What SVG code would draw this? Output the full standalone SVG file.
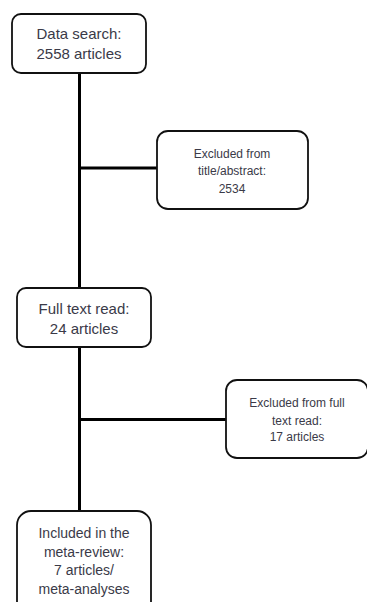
<svg xmlns="http://www.w3.org/2000/svg" width="367" height="602" viewBox="0 0 367 602">
<style>
.box{fill:#fff;stroke:#111;stroke-width:1.8}
.ln{stroke:#000;stroke-width:3;fill:none}
text{font-family:"Liberation Sans",Arial,sans-serif;fill:#3a3a48;text-anchor:middle}
.big{font-size:15px}
.sm{font-size:12px}
.md{font-size:14px}
</style>
<rect width="367" height="602" fill="#fff"/>
<g id="connectors">
<line class="ln" x1="79.5" y1="73" x2="79.5" y2="288"/>
<line class="ln" x1="79.5" y1="347" x2="79.5" y2="511"/>
<line class="ln" x1="79.5" y1="168" x2="157" y2="168"/>
<line class="ln" x1="79.5" y1="419.5" x2="226" y2="419.5"/>
</g>
<g id="n1">
<rect class="box" x="12" y="14" width="134" height="59" rx="9"/>
<text class="big" x="79" y="39">Data search:</text>
<text class="big" x="79" y="59">2558 articles</text>
</g>
<g id="n2">
<rect class="box" x="157" y="131" width="151" height="78" rx="11"/>
<text class="sm" x="232" y="158">Excluded from</text>
<text class="sm" x="232" y="175">title/abstract:</text>
<text class="sm" x="232" y="193">2534</text>
</g>
<g id="n3">
<rect class="box" x="17" y="288" width="134" height="59" rx="9"/>
<text class="big" x="84" y="314">Full text read:</text>
<text class="big" x="84" y="334">24 articles</text>
</g>
<g id="n4">
<rect class="box" x="226" y="380" width="142" height="78" rx="11"/>
<text class="sm" x="297" y="407">Excluded from full</text>
<text class="sm" x="297" y="425">text read:</text>
<text class="sm" x="297" y="441">17 articles</text>
</g>
<g id="n5">
<rect class="box" x="17" y="511" width="134" height="110" rx="14"/>
<text class="md" x="84" y="538">Included in the</text>
<text class="md" x="84" y="557">meta-review:</text>
<text class="md" x="84" y="575">7 articles/</text>
<text class="md" x="84" y="594">meta-analyses</text>
</g>
</svg>
